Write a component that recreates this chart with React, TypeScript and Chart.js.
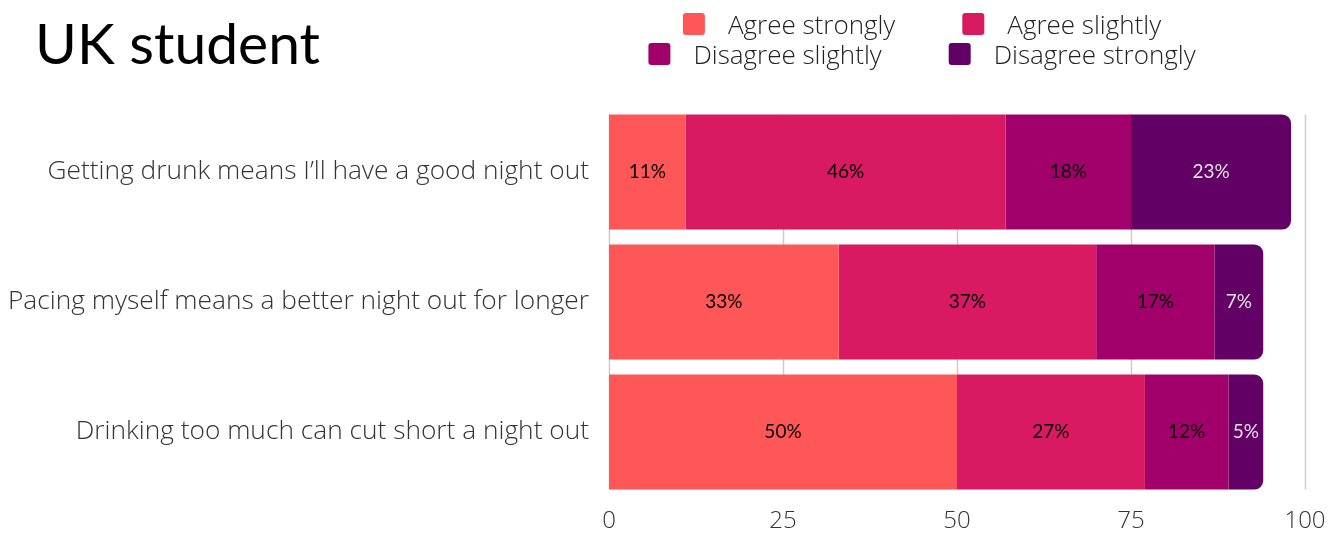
import React, { useEffect, useRef } from "react";
import { Chart, registerables } from "chart.js";

Chart.register(...registerables);

const title = "UK student";
const categories = [
  "Getting drunk means I’ll have a good night out",
  "Pacing myself means a better night out for longer",
  "Drinking too much can cut short a night out",
];
const seriesNames = ["Agree strongly", "Agree slightly", "Disagree slightly", "Disagree strongly"];
const agreeStrongly = [11, 33, 50];
const agreeSlightly = [46, 37, 27];
const disagreeSlightly = [18, 17, 12];
const disagreeStrongly = [23, 7, 5];
const seriesColors = ["#FF5757", "#D91962", "#A1006B", "#630066"];
const labelColors = ["#000000", "#000000", "#000000", "#E2E2E2"];
const xMin = 0;
const xMax = 100;
const xStep = 25;

const LABEL_FONT = "'Open Sans', sans-serif";
const GEO_FONT = "Lato, 'Noto Sans', sans-serif";

const overlayPlugin = {
  id: "overlay",
  beforeDatasetsDraw(chart: any) {
    const ctx = chart.ctx;
    const xs = chart.scales.x;
    const first = chart.getDatasetMeta(0).data[0] as any;
    const last = chart.getDatasetMeta(0).data[categories.length - 1] as any;
    const top = first.y - first.height / 2;
    const bottom = last.y + last.height / 2;
    ctx.save();
    ctx.strokeStyle = "#cccccc";
    ctx.lineWidth = 1.5;
    xs.ticks.forEach((t: any) => {
      const px = Math.round(xs.getPixelForValue(t.value)) + 0.5;
      ctx.beginPath();
      ctx.moveTo(px, top);
      ctx.lineTo(px, bottom);
      ctx.stroke();
    });
    ctx.restore();
  },
  afterDatasetsDraw(chart: any) {
    const ctx = chart.ctx;
    ctx.save();
    ctx.font = `400 19px ${GEO_FONT}`;
    ctx.textAlign = "center";
    ctx.textBaseline = "middle";
    chart.data.datasets.forEach((ds: any, di: number) => {
      const meta = chart.getDatasetMeta(di);
      meta.data.forEach((bar: any, i: number) => {
        const v = ds.data[i];
        const cx = (bar.x + bar.base) / 2;
        ctx.fillStyle = labelColors[di];
        ctx.fillText(`${v}%`, cx, bar.y);
      });
    });
    ctx.restore();
  },
  afterDraw(chart: any) {
    const ctx = chart.ctx;
    ctx.save();
    // title
    ctx.fillStyle = "#000";
    ctx.font = `400 57px ${GEO_FONT}`;
    ctx.textAlign = "left";
    ctx.textBaseline = "alphabetic";
    ctx.fillText(title, 35, 64);
    // legend
    const rows = [
      [0, 1],
      [2, 3],
    ];
    const rowY = [24, 54];
    const box = 22;
    const gapText = 23;
    const gapItem = 67;
    const centerX = 922;
    ctx.font = `300 26px ${LABEL_FONT}`;
    ctx.textBaseline = "middle";
    rows.forEach((row, ri) => {
      const widths = row.map((si) => box + gapText + ctx.measureText(seriesNames[si]).width);
      const total = widths.reduce((a, b) => a + b, 0) + gapItem * (row.length - 1);
      let x = centerX - total / 2;
      row.forEach((si, k) => {
        ctx.fillStyle = seriesColors[si];
        ctx.beginPath();
        (ctx as any).roundRect(x, rowY[ri] - box / 2, box, box, 3);
        ctx.fill();
        ctx.fillStyle = "#222";
        ctx.fillText(seriesNames[si], x + box + gapText, rowY[ri] + 3);
        x += widths[k] + gapItem;
      });
    });
    ctx.restore();
  },
};

export default function App() {
  const ref = useRef<HTMLCanvasElement>(null);
  useEffect(() => {
    const series = [agreeStrongly, agreeSlightly, disagreeSlightly, disagreeStrongly];
    const chart = new Chart(ref.current as HTMLCanvasElement, {
      type: "bar",
      data: {
        labels: categories,
        datasets: series.map((d, i) => ({
          label: seriesNames[i],
          data: d,
          backgroundColor: seriesColors[i],
          borderWidth: 0,
          barPercentage: 0.885,
          categoryPercentage: 1,
          borderRadius:
            i === series.length - 1
              ? { topLeft: 0, bottomLeft: 0, topRight: 9, bottomRight: 9 }
              : 0,
          borderSkipped: false,
        })),
      },
      options: {
        indexAxis: "y",
        responsive: false,
        animation: false,
        layout: { padding: { top: 107, right: 35, left: 0, bottom: 0 } },
        plugins: {
          legend: { display: false },
          tooltip: { enabled: false },
          title: { display: false },
        },
        scales: {
          x: {
            stacked: true,
            min: xMin,
            max: xMax,
            grid: { display: false, drawTicks: false },
            border: { display: false },
            ticks: {
              stepSize: xStep,
              color: "#333",
              font: { family: LABEL_FONT, size: 24, weight: "300" },
              padding: 10,
              maxRotation: 0,
              autoSkip: false,
            },
            afterFit: (s: any) => {
              s.height = 37;
            },
          },
          y: {
            stacked: true,
            grid: { display: false, drawTicks: false },
            border: { display: false },
            ticks: {
              color: "#333",
              font: { family: LABEL_FONT, size: 26.3, weight: "300" },
              padding: 20,
              autoSkip: false,
            },
            afterFit: (s: any) => {
              s.width = 609;
            },
          },
        },
      } as any,
      plugins: [overlayPlugin],
    });
    return () => chart.destroy();
  }, []);
  return (
    <div style={{ position: "absolute", left: 0, top: 0, width: 1340, height: 534, background: "#fff" }}>
      <canvas ref={ref} width={1340} height={534} style={{ width: 1340, height: 534 }} />
    </div>
  );
}
